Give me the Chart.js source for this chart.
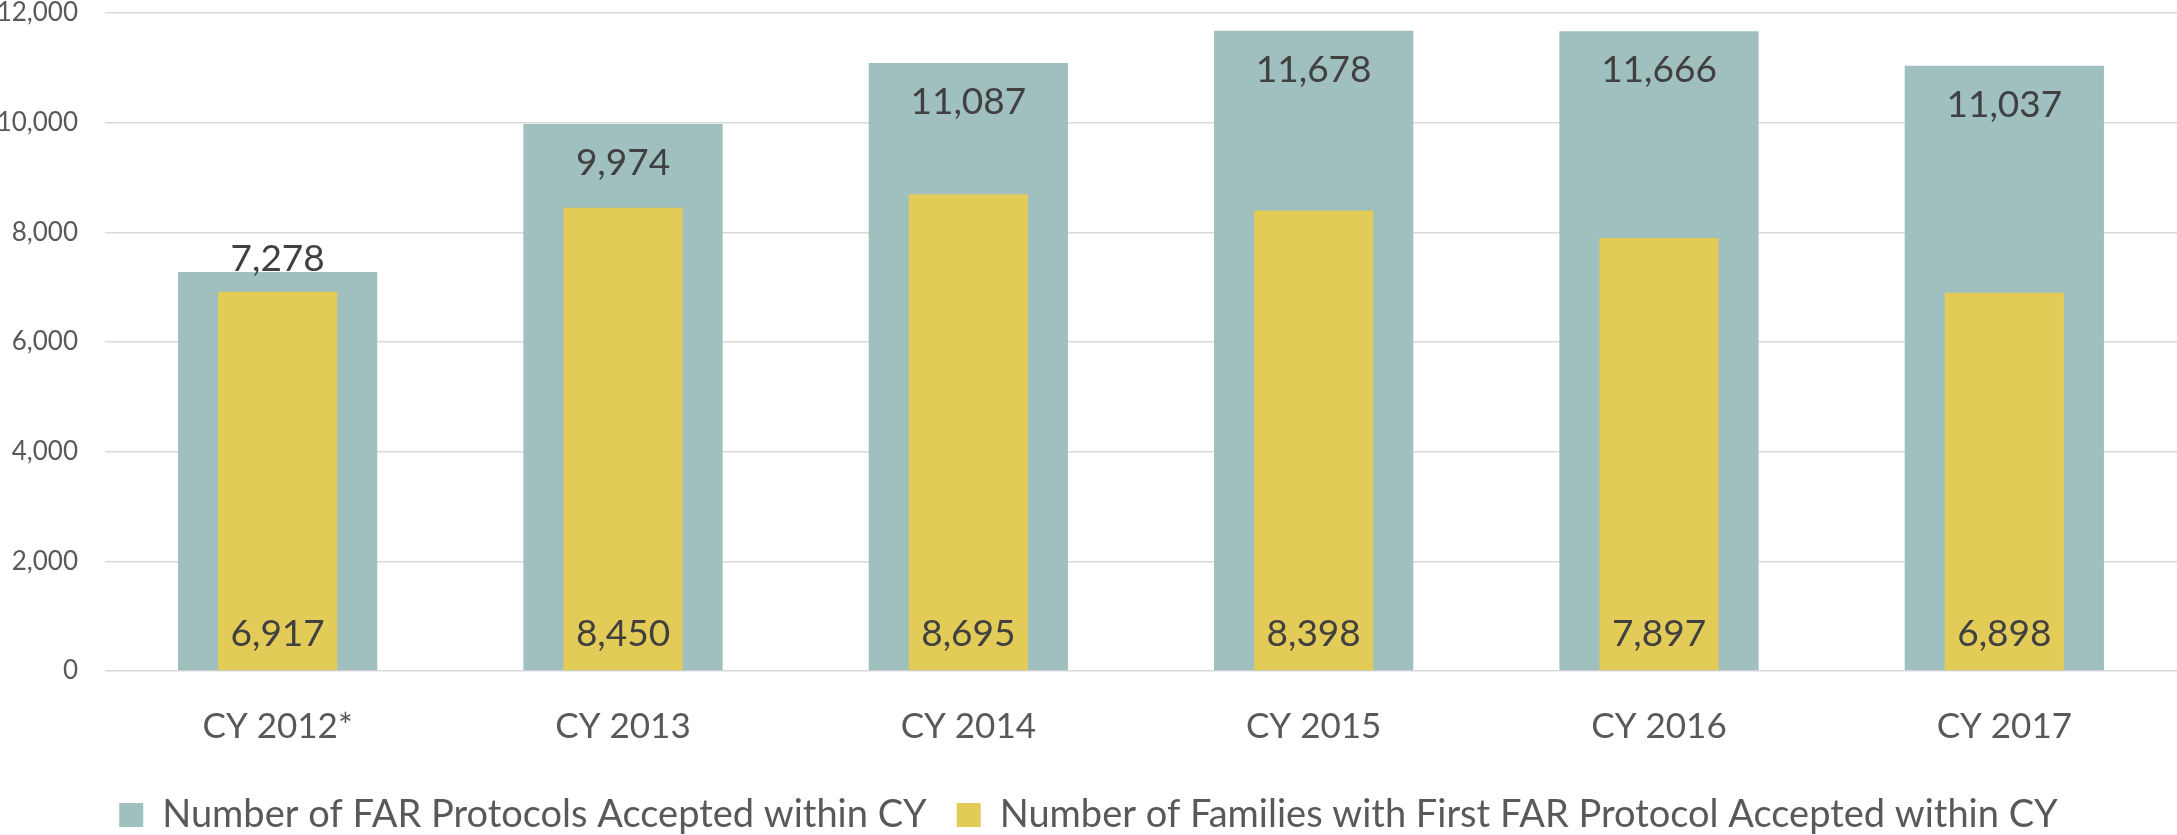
<!DOCTYPE html>
<html>
<head>
<meta charset="utf-8">
<script src="https://cdn.jsdelivr.net/npm/chart.js@4"></script>
<style>
  html, body { margin:0; padding:0; background:#fff; }
  #wrap { width:2177px; height:835px; position:relative; }
</style>
</head>
<body>
<div id="wrap"><canvas id="farChart"></canvas></div>
<script>
// ── Data ──────────────────────────────────────────────
const years = ['CY 2012*','CY 2013','CY 2014','CY 2015','CY 2016','CY 2017'];
const protocolsAccepted = [7278, 9974, 11087, 11678, 11666, 11037];
const familiesFirstProtocol = [6917, 8450, 8695, 8398, 7897, 6898];
const yTicks = [0, 2000, 4000, 6000, 8000, 10000, 12000];

const TEAL = '#a0bfbf';
const YELLOW = '#e3cb57';
const FONT = "Lato, 'Open Sans', sans-serif";

// value labels drawn on bars (no datalabels plugin available offline)
const barLabels = {
    id: 'barLabels',
    afterDatasetsDraw(chart) {
        const ctx = chart.ctx;
        const fmt = v => v.toLocaleString('en-US');
        const teal = chart.getDatasetMeta(0).data;
        const yel = chart.getDatasetMeta(1).data;
        ctx.save();
        ctx.font = '37px ' + FONT;
        ctx.fillStyle = '#404040';
        ctx.textAlign = 'center';
        ctx.textBaseline = 'middle';
        teal.forEach((bar, i) => {
            let y = bar.y + 39;
            // inside-end label would run into the yellow bar -> put it above
            if (y + 16 > yel[i].y) y = bar.y - 13;
            ctx.fillText(fmt(protocolsAccepted[i]), bar.x, y);
        });
        yel.forEach((bar, i) => {
            ctx.fillText(fmt(familiesFirstProtocol[i]), bar.x, bar.base - 36);
        });
        ctx.restore();
    }
};

new Chart(document.getElementById('farChart'), {
    type: 'bar',
    data: {
        labels: years,
        datasets: [
            { label:'Number of FAR Protocols Accepted within CY', data:protocolsAccepted, backgroundColor:TEAL,
              grouped:false, order:1, categoryPercentage:1, barPercentage:0.577 },
            { label:'Number of Families with First FAR Protocol Accepted within CY', data:familiesFirstProtocol, backgroundColor:YELLOW,
              grouped:false, order:0, categoryPercentage:1, barPercentage:0.345 }
        ]
    },
    options: {
        responsive:true, maintainAspectRatio:false, animation:false,
        layout:{ padding:{ top:0, left:0, right:0, bottom:-9 } },
        plugins:{
            tooltip:{ enabled:false },
            legend:{ position:'bottom',
                labels:{ boxWidth:24, boxHeight:24, padding:30, color:'#595959', font:{ size:38, family:FONT },
                         sort:(a,b) => a.datasetIndex - b.datasetIndex } }
        },
        scales:{
            y:{ min:0, max:12000,
                afterBuildTicks: axis => { axis.ticks = yTicks.map(v => ({ value:v })); },
                afterFit: axis => { axis.width = 105; },
                // gap between labels and plot comes from an invisible tick mark,
                // since ticks.padding would also push the plot top down
                grid:{ color:'#d9d9d9', lineWidth:1.5, drawTicks:true, tickLength:27, tickColor:'rgba(0,0,0,0)' },
                border:{ display:false },
                ticks:{ padding:0, color:'#595959', font:{ size:26, family:FONT, lineHeight:1 },
                        callback: v => v.toLocaleString('en-US') } },
            x:{ grid:{ display:false }, border:{ display:false },
                afterFit: axis => { axis.height = 95; },
                ticks:{ padding:27, color:'#595959', font:{ size:35, family:FONT } } }
        }
    },
    plugins:[barLabels]
});
</script>
</body>
</html>
